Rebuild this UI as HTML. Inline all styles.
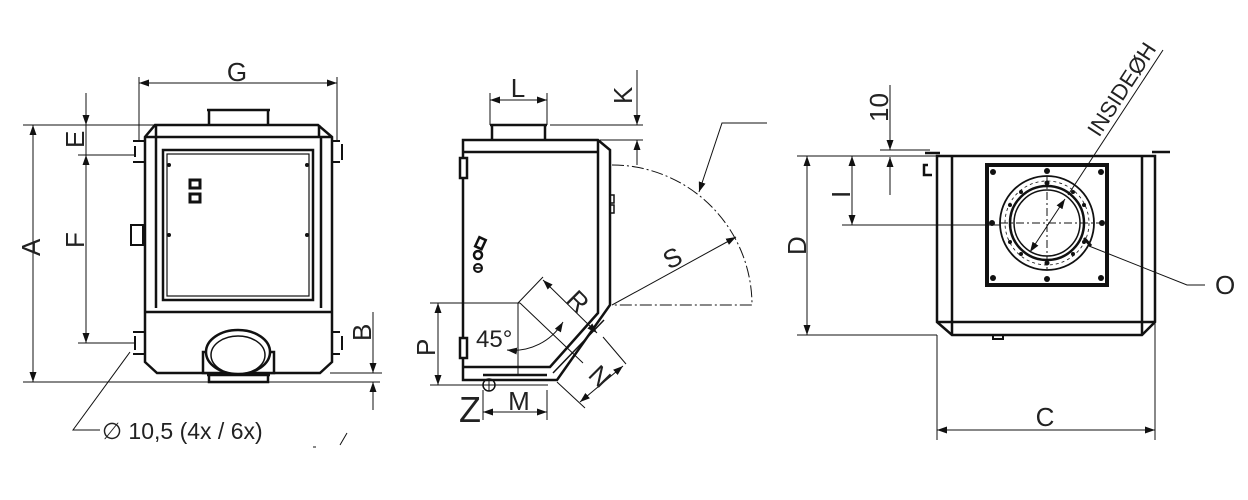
<!DOCTYPE html>
<html><head><meta charset="utf-8"><style>
html,body{margin:0;padding:0;background:#fff}
svg{display:block}
svg text{font-family:"Liberation Sans",sans-serif;fill:#222}
</style></head><body>
<svg width="1248" height="500" viewBox="0 0 1248 500" xmlns="http://www.w3.org/2000/svg">
<defs>
<marker id="a" viewBox="0 0 10 10" refX="10" refY="5" markerWidth="10" markerHeight="10" orient="auto-start-reverse" markerUnits="userSpaceOnUse"><path d="M0,1.5 L10,5 L0,8.5 z" fill="#111"/></marker>
</defs>
<g stroke="#111" fill="none">
<!-- ===== VIEW 1 ===== -->
<g stroke-width="2.5">
<path d="M207,110 H270 M209,110 V125 M268,110 V125"/>
<path d="M155,125 H318 L332,137 V362 L320,373 H157 L145,362 V137 Z"/>
<path d="M145,137 H332 M156,125 V137 M319,125 V137 M145,312 H332"/>
<path d="M156,137 V308 M321,137 V308"/>
<rect x="163" y="150" width="150" height="150"/>
<rect x="167" y="154" width="142" height="142" stroke-width="1.2"/>
<rect x="203" y="352" width="71" height="21" fill="#fff"/>
<ellipse cx="238" cy="352" rx="32" ry="22" fill="#fff"/>
<ellipse cx="238" cy="355" rx="27" ry="19" stroke-width="1.5"/>
<path d="M207,375 H270 M209,373 V382 H268 V373"/>
</g>
<rect x="190" y="180" width="10" height="8" stroke-width="3"/>
<rect x="190" y="194" width="10" height="8" stroke-width="3"/>
<g fill="#111" stroke="none"><circle cx="169" cy="165" r="2"/><circle cx="307" cy="165" r="2"/><circle cx="169" cy="235" r="2"/><circle cx="307" cy="235" r="2"/></g>
<g stroke-width="2">
<path d="M133,141 H145 V162 H133 M135,146 V157 M340,141 H332 V162 H340"/>
<path d="M342,144 V160 M133,332 H145 V354 H133 M135,336 V350 M340,332 H332 V354 H340 M342,336 V350"/>
<rect x="131" y="225" width="12" height="20"/>
</g>
<g stroke-width="1">
<path d="M139,77 V140 M337,77 V140"/>
<path d="M139,83 H337" marker-start="url(#a)" marker-end="url(#a)"/>
<path d="M23,125 H155 M23,382 H380"/>
<path d="M33,125 V382" marker-start="url(#a)" marker-end="url(#a)"/>
<path d="M86,93 V125" marker-end="url(#a)"/>
<path d="M78,125 H86 M78,155 H135 M78,343 H135"/>
<path d="M86,155 V343" marker-start="url(#a)" marker-end="url(#a)"/>
<path d="M86,125 V155"/>
<path d="M330,373 H382"/>
<path d="M373,312 V373" marker-end="url(#a)"/>
<path d="M373,410 V382" marker-end="url(#a)"/>
<path d="M130,352 L73,430 H100"/>
<path d="M313,447 L316,447 M340,445 L347,433"/>
</g>
</g>
<g stroke="none" style="font-size:26px">
<text x="237" y="81" text-anchor="middle" style="font-size:26px">G</text>
<text transform="translate(40,256) rotate(-90)" style="font-size:26px">A</text>
<text transform="translate(84,148) rotate(-90)" style="font-size:26px">E</text>
<text transform="translate(84,248) rotate(-90)" style="font-size:26px">F</text>
<text transform="translate(371,341) rotate(-90)" style="font-size:26px">B</text>
<text x="102" y="439" style="font-size:23px">∅ 10,5 (4x / 6x)</text>
</g>

<g stroke="#111" fill="none">
<!-- ===== VIEW 2 ===== -->
<g stroke-width="2.5">
<path d="M490,125 H547 M492,125 V140 M545,125 V140"/>
<path d="M463,140 H598 L610,150 V305 L557,380 H463 Z"/>
<path d="M463,152 H598 V313 L550,367 H463 M598,140 V152"/>
<path d="M553,373 L604,320" stroke-width="1.5"/>
<path d="M483,375 H547"/>
<rect x="460" y="158" width="7" height="20" fill="#fff"/>
<rect x="460" y="338" width="7" height="20" fill="#fff"/>
</g>
<rect x="610" y="195" width="4" height="8" stroke-width="1.5"/>
<rect x="610" y="205" width="4" height="8" stroke-width="1.5"/>
<circle cx="489" cy="385" r="6" stroke-width="1.5"/>
<path d="M483,385 H495 M489,379 V391" stroke-width="1"/>
<rect x="477" y="238" width="7" height="10" stroke-width="2.5" transform="rotate(25 480 243)"/>
<circle cx="478" cy="255" r="4" stroke-width="2.5"/>
<circle cx="478" cy="268" r="4" stroke-width="2"/>
<path d="M474,268 H482" stroke-width="1.5"/>
<g stroke-width="1">
<path d="M490,93 V125 M547,93 V125"/>
<path d="M490,100 H547" marker-start="url(#a)" marker-end="url(#a)"/>
<path d="M550,125 H643 M600,140 H643"/>
<path d="M637,70 V125" marker-end="url(#a)"/>
<path d="M637,165 V140" marker-end="url(#a)"/>
<path d="M612,165 A140,140 0 0 1 752,305 H612" stroke-dasharray="12,3,2,3"/>
<path d="M612,305 L736,237" marker-end="url(#a)"/>
<path d="M767,123 H722 L699,192" marker-end="url(#a)"/>
<path d="M430,303 H520 M430,385 H548"/>
<path d="M438,303 V385" marker-start="url(#a)" marker-end="url(#a)"/>
<path d="M518,303 V375"/>
<path d="M518,303 L543,277 M520,303 L583,363"/>
<path d="M543,280 L597,333" marker-start="url(#a)" marker-end="url(#a)"/>
<path d="M507,350 A58,58 0 0 0 563,322" marker-start="url(#a)" marker-end="url(#a)"/>
<path d="M557,382 L585,408 M603,337 L626,364"/>
<path d="M580,402 L623,366" marker-start="url(#a)" marker-end="url(#a)"/>
<path d="M483,390 V420 M547,390 V420"/>
<path d="M483,412 H547" marker-start="url(#a)" marker-end="url(#a)"/>
</g>
</g>
<g stroke="none">
<text x="518" y="97" text-anchor="middle" style="font-size:26px">L</text>
<text transform="translate(632,104) rotate(-90)" style="font-size:26px">K</text>
<text transform="translate(669,270) rotate(-28)" style="font-size:26px">S</text>
<text transform="translate(565,301) rotate(45)" style="font-size:26px">R</text>
<text x="476" y="347" style="font-size:24px">45°</text>
<text transform="translate(435,356) rotate(-90)" style="font-size:26px">P</text>
<text transform="translate(587,376) rotate(45)" style="font-size:26px">N</text>
<text x="519" y="410" text-anchor="middle" style="font-size:26px">M</text>
<text x="459" y="422" style="font-size:36px">Z</text>
</g>

<g stroke="#111" fill="none">
<!-- ===== VIEW 3 ===== -->
<g stroke-width="2.5">
<path d="M925,153 H940 M1152,152 H1170"/>
<path d="M937,156 H1155 V322 L1142,335 H952 L937,322 Z"/>
<path d="M952,156 V335 M1142,156 V335 M937,322 H1155"/>
<path d="M928,165 h-4 v10 h8" stroke-width="2.5"/>
<rect x="987" y="165" width="120" height="120" stroke-width="4"/>
<circle cx="1047" cy="223" r="47" stroke-width="1.8"/>
<circle cx="1047" cy="223" r="37" stroke-width="2.5"/>
<circle cx="1047" cy="223" r="33" stroke-width="1.5"/>
<path d="M993,335 v4 h10 v-4" stroke-width="2"/>
</g>
<circle cx="1047" cy="223" r="42" stroke-width="0.8" stroke-dasharray="3,3"/>
<g fill="#111" stroke="none">
<circle cx="993" cy="172" r="3"/><circle cx="1047" cy="171" r="3"/><circle cx="1101" cy="172" r="3"/>
<circle cx="992" cy="223" r="3"/><circle cx="1102" cy="223" r="3"/>
<circle cx="993" cy="278" r="3"/><circle cx="1047" cy="279" r="3"/><circle cx="1101" cy="278" r="3"/>
<circle cx="1047" cy="183" r="2.5"/><circle cx="1047" cy="263" r="2.5"/>
<circle cx="1010" cy="205" r="2"/><circle cx="1084" cy="205" r="2"/><circle cx="1010" cy="242" r="2"/><circle cx="1084" cy="242" r="2"/>
<circle cx="1021" cy="192" r="2"/><circle cx="1073" cy="192" r="2"/><circle cx="1021" cy="254" r="2"/><circle cx="1073" cy="254" r="2"/>
</g>
<g stroke-width="1">
<path d="M1047,176 V270 M1000,223 H1100" stroke-dasharray="8,3,2,3"/>
<path d="M797,156 H937 M797,335 H937 M842,225 H1000 M880,150 H930"/>
<path d="M807,156 V335" marker-start="url(#a)" marker-end="url(#a)"/>
<path d="M852,156 V225" marker-start="url(#a)" marker-end="url(#a)"/>
<path d="M890,85 V150" marker-end="url(#a)"/>
<path d="M890,195 V157" marker-end="url(#a)"/>
<path d="M937,335 V440 M1155,322 V440"/>
<path d="M937,430 H1155" marker-start="url(#a)" marker-end="url(#a)"/>
<path d="M1163,50 L1068,195"/>
<path d="M1065,199 L1030,252" marker-start="url(#a)" marker-end="url(#a)"/>
<path d="M1089,246 L1187,285 H1205"/>
</g>
<path d="M1084,238 L1091,246" stroke-width="3"/>
</g>
<g stroke="none">
<text transform="translate(806,255) rotate(-90)" style="font-size:26px">D</text>
<text transform="translate(850,198) rotate(-90)" style="font-size:26px">I</text>
<text transform="translate(888,122) rotate(-90)" style="font-size:26px">10</text>
<text x="1045" y="426" text-anchor="middle" style="font-size:26px">C</text>
<text x="1215" y="294" style="font-size:26px">O</text>
<text transform="translate(1099,138) rotate(-57)" style="font-size:22px">INSIDEØH</text>
</g>
</svg>
</body></html>
